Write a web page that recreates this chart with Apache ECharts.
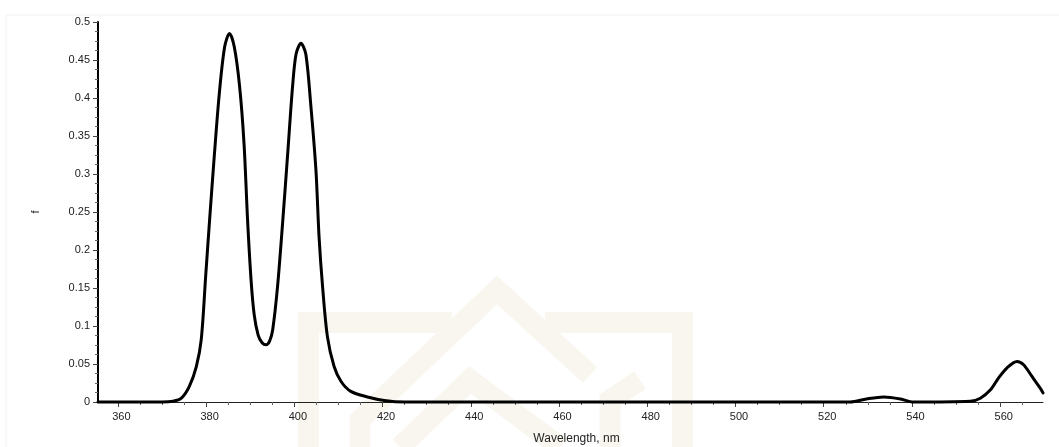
<!DOCTYPE html>
<html>
<head>
<meta charset="utf-8">
<script src="https://cdn.jsdelivr.net/npm/echarts@6/dist/echarts.min.js"></script>
<style>
html,body{margin:0;padding:0;background:#fff;}
#chart{width:1059px;height:447px;}
</style>
</head>
<body>
<div id="chart"></div>
<script>
// Wavelength (nm) and intensity f
const wavelength = [355.5, 365, 370, 372.5, 374.4, 376.2, 377.8, 378.9, 379.9, 380.8, 381.9, 383.0, 384.2, 385.3, 386.4, 387.6, 388.6, 389.4, 390.2, 390.9, 391.8, 392.7, 393.6, 394.4, 395.1, 396.2, 397.4, 398.5, 399.6, 400.4, 401.5, 402.6, 403.7, 404.9, 405.6, 406.4, 407.5, 409.0, 410.6, 412.8, 416.6, 420.4, 425, 450, 500, 526.0, 529.7, 533.6, 537.4, 540.3, 553.2, 555.5, 557.8, 559.6, 561.5, 563.8, 565.3, 567.2, 569.1, 569.7];
const intensity  = [0, 0, 0, 0.001, 0.005, 0.0205, 0.047, 0.082, 0.165, 0.24, 0.327, 0.406, 0.467, 0.485, 0.467, 0.415, 0.34, 0.24, 0.16, 0.115, 0.088, 0.078, 0.0753, 0.08, 0.095, 0.152, 0.24, 0.327, 0.415, 0.458, 0.472, 0.458, 0.393, 0.305, 0.218, 0.152, 0.086, 0.047, 0.027, 0.014, 0.0066, 0.002, 0, 0, 0, 0, 0.004, 0.0066, 0.004, 0, 0.001, 0.005, 0.016, 0.0315, 0.0447, 0.0533, 0.049, 0.0336, 0.018, 0.012];
const xMajorTicks = [360, 380, 400, 420, 440, 460, 480, 500, 520, 540, 560];
const xMinorTicks = [365, 370, 375, 385, 390, 395, 405, 410, 415, 425, 430, 435, 445, 450, 455, 465, 470, 475, 485, 490, 495, 505, 510, 515, 525, 530, 535, 545, 550, 555, 565];
const xName = 'Wavelength, nm';
const yName = 'f';

const chart = echarts.init(document.getElementById('chart'), null, {renderer: 'canvas'});
const font = 'Liberation Sans, Arial, sans-serif';
const wm = '#f9f6ef';

const option = {
  animation: false,
  backgroundColor: '#ffffff',
  graphic: [
    {type: 'rect', z: -10, shape: {x: 6, y: 15, width: 1100, height: 500}, style: {fill: 'none', stroke: '#f2f2f2', lineWidth: 1}},
    {type: 'polyline', z: -9, shape: {points: [[308.5, 447], [308.5, 322.5], [452, 322.5]]}, style: {stroke: wm, fill: 'none', lineWidth: 21}},
    {type: 'polyline', z: -9, shape: {points: [[545, 322.5], [682.5, 322.5], [682.5, 447]]}, style: {stroke: wm, fill: 'none', lineWidth: 21}},
    {type: 'polyline', z: -9, shape: {points: [[360, 447], [360, 420], [497, 290], [590, 375]]}, style: {stroke: wm, fill: 'none', lineWidth: 21}},
    {type: 'polyline', z: -9, shape: {points: [[400, 447], [470, 380], [560, 447]]}, style: {stroke: wm, fill: 'none', lineWidth: 21}},
    {type: 'polyline', z: -9, shape: {points: [[610, 447], [610, 400], [640, 380]]}, style: {stroke: wm, fill: 'none', lineWidth: 21}}
  ],
  grid: {left: 98, right: 16, top: 22, bottom: 45, containLabel: false, outerBoundsMode: 'none'},
  xAxis: [
    {
      type: 'value', min: 355.5, max: 569.7,
      name: xName, nameLocation: 'middle', nameGap: 31,
      nameTextStyle: {color: '#222', fontSize: 12, fontFamily: font, padding: [0, 0, 0, 12]},
      axisLine: {show: true, onZero: false, lineStyle: {color: '#222', width: 1}},
      axisTick: {show: true, customValues: xMajorTicks, length: 5, lineStyle: {color: '#444'}},
      axisLabel: {customValues: xMajorTicks, color: '#222', fontSize: 11, fontFamily: font, margin: 9, padding: [0, 0, 0, 7]},
      splitLine: {show: false}
    },
    {
      type: 'value', min: 355.5, max: 569.7, position: 'bottom',
      axisLine: {show: false},
      axisTick: {show: true, customValues: xMinorTicks, length: 3, lineStyle: {color: '#666'}},
      axisLabel: {show: false},
      splitLine: {show: false}
    }
  ],
  yAxis: {
    type: 'value', min: 0, max: 0.5, interval: 0.05,
    name: yName, nameLocation: 'middle', nameGap: 57, nameRotate: 90,
    nameTextStyle: {color: '#222', fontSize: 11, fontFamily: font},
    axisLine: {show: true, lineStyle: {color: '#000', width: 2}},
    axisTick: {show: true, length: 5, lineStyle: {color: '#444'}},
    minorTick: {show: true, splitNumber: 4, length: 3, lineStyle: {color: '#666'}},
    axisLabel: {color: '#222', fontSize: 11, fontFamily: font, margin: 8},
    splitLine: {show: false}
  },
  series: [{
    type: 'line',
    data: wavelength.map((w, i) => [w, intensity[i]]),
    showSymbol: false, symbol: 'none',
    smooth: 0.3,
    lineStyle: {color: '#000', width: 3, cap: 'round', join: 'round'},
    clip: false
  }]
};
chart.setOption(option);
</script>
</body>
</html>
